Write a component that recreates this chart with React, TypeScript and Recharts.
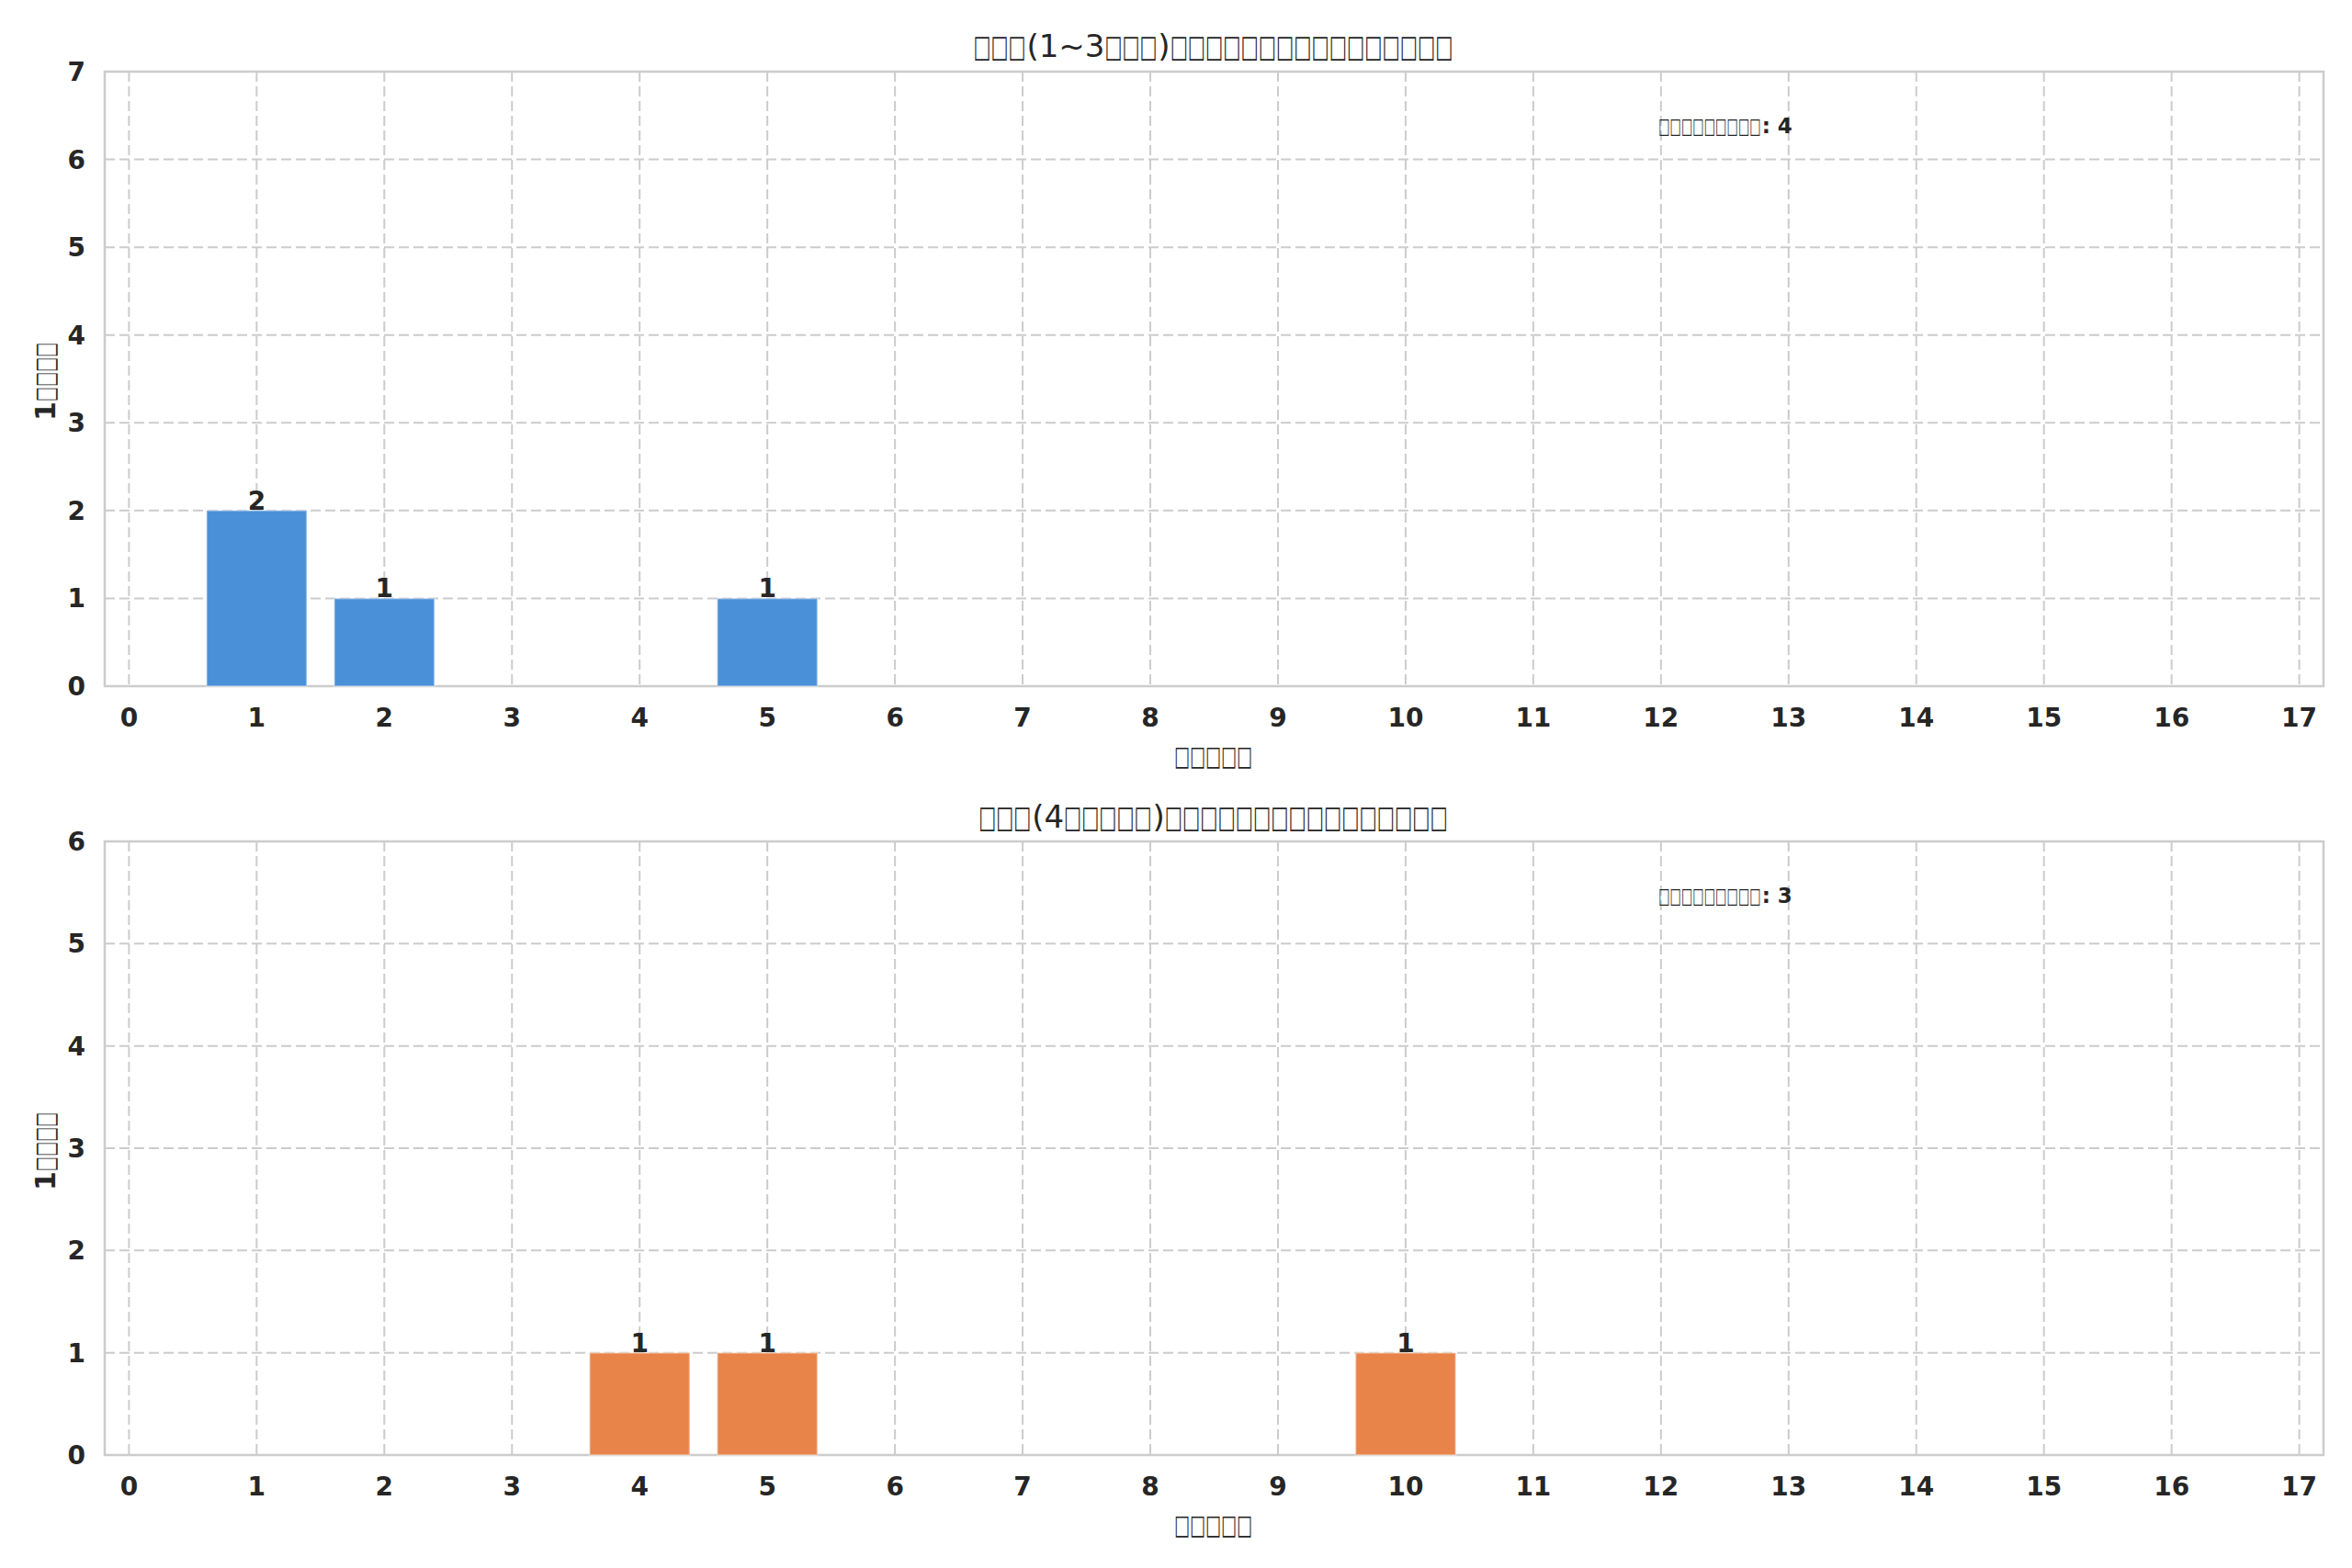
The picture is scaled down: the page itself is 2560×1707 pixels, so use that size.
import { useLayoutEffect, useRef, useState } from "react"
import { BarChart, Bar, XAxis, YAxis, CartesianGrid, LabelList, ReferenceArea } from "recharts"

// glyphs missing in the source font show up as boxes, kept as they appear
const TITLE_SHORT = "□□□(1~3□□□)□□□□□□□□□□□□□□□□"
const TITLE_LONG = "□□□(4□□□□□)□□□□□□□□□□□□□□□□"
const X_LABEL = "□□□□□"
const Y_LABEL = "1□□□□"
const NOTE_SHORT = "□□□□□□□□□: 4"
const NOTE_LONG = "□□□□□□□□□: 3"

const DAYS = [0, 1, 2, 3, 4, 5, 6, 7, 8, 9, 10, 11, 12, 13, 14, 15, 16, 17]
const SHORT_COUNTS = [0, 2, 1, 0, 0, 1, 0, 0, 0, 0, 0, 0, 0, 0, 0, 0, 0, 0]
const LONG_COUNTS = [0, 0, 0, 0, 1, 1, 0, 0, 0, 0, 1, 0, 0, 0, 0, 0, 0, 0]
const Y_TICKS_SHORT = [0, 1, 2, 3, 4, 5, 6, 7]
const Y_TICKS_LONG = [0, 1, 2, 3, 4, 5, 6]

const FONT = "DejaVu Sans"
const INK = "#262626"
const X_DOMAIN = [-0.19, 17.19]

const shortData = DAYS.map((d, i) => ({ day: d, count: SHORT_COUNTS[i] }))
const longData = DAYS.map((d, i) => ({ day: d, count: LONG_COUNTS[i] }))

const tickStyle = { fontFamily: FONT, fontSize: 28, fontWeight: "bold", fill: INK }

// rough DejaVu Sans advances (em) for the few ordinary chars in the labels
const ADV: any = { "(": 0.39, ")": 0.39, "~": 0.838, "1": 0.636, "3": 0.636, "4": 0.636, ":": 0.337, " ": 0.318 }
const ADV_BOLD: any = { "(": 0.457, ")": 0.457, "~": 0.838, "1": 0.696, "3": 0.696, "4": 0.696, ":": 0.399, " ": 0.348 }

function Panel({ data, color, yTicks, height, top, bottom }: any) {
  const yMax = yTicks[yTicks.length - 1]
  return (
    <BarChart
      width={2560}
      height={height}
      data={data}
      margin={{ top, right: 31, left: 44, bottom }}
      style={{ display: "block" }}
    >
      <CartesianGrid stroke="#cccccc" strokeWidth={2} strokeDasharray="11 5" />
      <XAxis
        dataKey="day"
        type="number"
        domain={X_DOMAIN}
        ticks={DAYS}
        interval={0}
        height={60}
        axisLine={false}
        tickLine={false}
        tickSize={0}
        tickMargin={24}
        tick={tickStyle}
        allowDataOverflow
      />
      <YAxis
        type="number"
        domain={[0, yMax]}
        ticks={yTicks}
        interval={0}
        width={70}
        axisLine={false}
        tickLine={false}
        tickSize={0}
        tickMargin={21}
        tick={tickStyle}
      />
      <Bar
        dataKey="count"
        fill={color}
        barSize={109}
        stroke="#ffffff"
        strokeOpacity={0.35}
        strokeWidth={2}
        isAnimationActive={false}
      >
        <LabelList
          dataKey="count"
          position="top"
          offset={1}
          formatter={(v: any) => (v ? v : "")}
          style={{ fontFamily: FONT, fontSize: 28, fontWeight: "bold", fill: INK }}
        />
      </Bar>
      <ReferenceArea
        x1={X_DOMAIN[0]}
        x2={X_DOMAIN[1]}
        y1={0}
        y2={yMax}
        fill="none"
        stroke="#cccccc"
        strokeWidth={2.5}
        ifOverflow="visible"
      />
    </BarChart>
  )
}

// a run of boxes squeezed horizontally to a given width
function BoxRun({ x, y, text, width, size }: any) {
  const ref = useRef<any>(null)
  const [sx, setSx] = useState(0.6)
  useLayoutEffect(() => {
    const natural = ref.current ? ref.current.getComputedTextLength() : 0
    if (natural > 0) setSx((width - 1) / natural)
  }, [width, text, size])
  return (
    <g transform={`translate(${x} ${y}) scale(${sx} 1)`}>
      <text ref={ref} x={0} y={0} dominantBaseline="central" fontFamily={FONT} fontSize={size} fill={INK}>
        {text}
      </text>
    </g>
  )
}

// each run of boxes / ordinary chars laid out left to right
function Boxed({ x, y, text, box, size, bold, rotate }: any) {
  const runs: string[] = text.match(/□+|[^□]+/g) || []
  const table = bold ? ADV_BOLD : ADV
  const widths = runs.map((r) =>
    r[0] === "□" ? r.length * box : r.split("").reduce((s, c) => s + (table[c] || 0.6) * size, 0)
  )
  const total = widths.reduce((a, b) => a + b, 0)
  let cursor = x - total / 2
  return (
    <g transform={rotate ? `rotate(-90 ${x} ${y})` : undefined}>
      {runs.map((r, i) => {
        const left = cursor
        cursor += widths[i]
        if (r[0] === "□") return <BoxRun key={i} x={left} y={y} text={r} width={widths[i]} size={size} />
        return (
          <text
            key={i}
            x={left}
            y={y}
            dominantBaseline="central"
            fontFamily={FONT}
            fontSize={size}
            fontWeight={bold ? "bold" : "normal"}
            fill={INK}
          >
            {r}
          </text>
        )
      })}
    </g>
  )
}

export default function App() {
  const shift = 838
  return (
    <div style={{ position: "relative", width: 2560, height: 1707, margin: -8, background: "#ffffff" }}>
      <Panel data={shortData} color="#4a90d9" yTicks={Y_TICKS_SHORT} height={850} top={78} bottom={43} />
      <Panel data={longData} color="#e8844a" yTicks={Y_TICKS_LONG} height={857} top={66} bottom={63} />
      <svg
        width={2560}
        height={1707}
        style={{ position: "absolute", left: 0, top: 0, pointerEvents: "none" }}
      >
        <Boxed x={1321} y={50} text={TITLE_SHORT} box={19.3} size={34} />
        <Boxed x={1321} y={50 + shift + 1} text={TITLE_LONG} box={19.3} size={34} />
        <Boxed x={1321} y={823} text={X_LABEL} box={17.2} size={30} bold />
        <Boxed x={1321} y={823 + shift - 1} text={X_LABEL} box={17.2} size={30} bold />
        <Boxed x={49} y={415} text={Y_LABEL} box={16.3} size={30} bold rotate />
        <Boxed x={49} y={415 + shift} text={Y_LABEL} box={16.3} size={30} bold rotate />
        <Boxed x={1878} y={137} text={NOTE_SHORT} box={12.5} size={23} bold />
        <Boxed x={1878} y={137 + shift} text={NOTE_LONG} box={12.5} size={23} bold />
      </svg>
    </div>
  )
}
